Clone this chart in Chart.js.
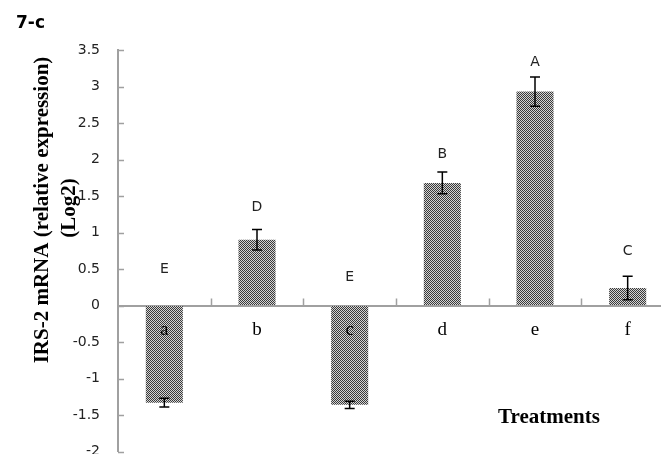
<!DOCTYPE html>
<html>
<head>
<meta charset="utf-8">
<script src="https://cdn.jsdelivr.net/npm/chart.js@4/dist/chart.umd.min.js"></script>
<style>
html,body{margin:0;padding:0;background:#fff;overflow:hidden;width:661px;height:454px;}
canvas{display:block;}
</style>
</head>
<body>
<canvas id="c" width="674" height="478" style="width:674px;height:478px;"></canvas>
<script>
// ---- data ----
const categories = ['a', 'b', 'c', 'd', 'e', 'f'];
const values = [-1.33, 0.90, -1.36, 1.68, 2.93, 0.24];
const errors = [0.06, 0.14, 0.05, 0.15, 0.20, 0.16];
const groupLetters = ['E', 'D', 'E', 'B', 'A', 'C'];
const letterPositions = [0.49, 1.34, 0.38, 2.07, 3.33, 0.74];
const yTicks = [3.5, 3, 2.5, 2, 1.5, 1, 0.5, 0, -0.5, -1, -1.5, -2];
const yTitleLines = ['IRS-2 mRNA (relative expression)', '(Log2)'];
const xTitle = 'Treatments';
const panelLabel = '7-c';

// pattern fill for bars
function makePattern() {
  const p = document.createElement('canvas');
  p.width = 2; p.height = 2;
  const g = p.getContext('2d');
  g.fillStyle = '#d4d4d4'; g.fillRect(0, 0, 2, 2);
  g.fillStyle = '#3a3a3a'; g.fillRect(0, 0, 1, 1); g.fillRect(1, 1, 1, 1);
  return g.createPattern(p, 'repeat');
}
const ctx = document.getElementById('c').getContext('2d');
const pattern = makePattern();
const axisColor = '#a0a0a0';

const extras = {
  id: 'extras',
  afterDatasetsDraw(chart) {
    const c = chart.ctx;
    const ys = chart.scales.y;
    const meta = chart.getDatasetMeta(0);
    c.save();
    // error bars
    c.strokeStyle = '#000';
    c.lineWidth = 1.5;
    meta.data.forEach((bar, i) => {
      const x = bar.x;
      const y1 = ys.getPixelForValue(values[i] + errors[i]);
      const y2 = ys.getPixelForValue(values[i] - errors[i]);
      c.beginPath();
      c.moveTo(x, y1); c.lineTo(x, y2);
      c.moveTo(x - 5, y1); c.lineTo(x + 5, y1);
      c.moveTo(x - 5, y2); c.lineTo(x + 5, y2);
      c.stroke();
    });
    // group letters
    c.fillStyle = '#222';
    c.font = '14px "DejaVu Sans"';
    c.textAlign = 'center';
    c.textBaseline = 'middle';
    meta.data.forEach((bar, i) => {
      c.fillText(groupLetters[i], bar.x, ys.getPixelForValue(letterPositions[i]));
    });
    c.restore();
  },
  afterDraw(chart) {
    const c = chart.ctx;
    const ys = chart.scales.y, xs = chart.scales.x;
    const area = chart.chartArea;
    c.save();
    // y tick marks (inward)
    c.strokeStyle = axisColor;
    c.lineWidth = 1.5;
    c.beginPath();
    yTicks.forEach(v => {
      const y = Math.round(ys.getPixelForValue(v)) + 0.5;
      c.moveTo(area.left, y); c.lineTo(area.left + 6, y);
    });
    // x tick marks between categories (upward)
    const y0 = ys.getPixelForValue(0);
    const step = xs.getPixelForValue(1) - xs.getPixelForValue(0);
    for (let i = 0; i < categories.length; i++) {
      const x = Math.round(xs.getPixelForValue(i) + step / 2) + 0.5;
      c.moveTo(x, y0); c.lineTo(x, y0 - 7);
    }
    c.stroke();
    // y axis title
    c.fillStyle = '#000';
    c.font = 'bold 21px "Liberation Serif"';
    c.textAlign = 'center';
    c.textBaseline = 'middle';
    c.save();
    c.translate(43, 210);
    c.rotate(-Math.PI / 2);
    c.fillText(yTitleLines[0], 0, 0);
    c.restore();
    c.save();
    c.translate(70, 208);
    c.rotate(-Math.PI / 2);
    c.fillText(yTitleLines[1], 0, 0);
    c.restore();
    // x title
    c.fillText(xTitle, 549, 418);
    // panel label
    c.font = 'bold 17px "DejaVu Sans"';
    c.textAlign = 'left';
    c.textBaseline = 'alphabetic';
    c.fillText(panelLabel, 16, 28);
    c.restore();
  }
};

new Chart(ctx, {
  type: 'bar',
  data: {
    labels: categories,
    datasets: [{
      data: values,
      backgroundColor: pattern,
      borderWidth: 0,
      categoryPercentage: 1.0,
      barPercentage: 0.4
    }]
  },
  options: {
    responsive: false,
    animation: false,
    devicePixelRatio: 1,
    layout: { padding: { top: 50, bottom: 3, left: 0, right: 0 } },
    plugins: { legend: { display: false }, tooltip: { enabled: false } },
    scales: {
      y: {
        min: -2, max: 3.5,
        afterFit(scale) { scale.width = 118; },
        afterBuildTicks(scale) { scale.ticks = yTicks.map(v => ({ value: v })); },
        grid: { drawOnChartArea: false, drawTicks: false },
        border: { color: axisColor, width: 2 },
        ticks: {
          padding: 18,
          color: '#222',
          font: { family: 'DejaVu Sans', size: 14 },
          callback: v => String(v)
        }
      },
      x: {
        position: { y: 0 },
        afterFit(scale) { scale.height = 0; },
        offset: true,
        grid: { drawOnChartArea: false, drawTicks: false },
        border: { color: axisColor, width: 2 },
        ticks: {
          z: 1,
          padding: 13,
          color: '#000',
          font: { family: 'Liberation Serif', size: 19 }
        }
      }
    }
  },
  plugins: [extras]
});
</script>
</body>
</html>
